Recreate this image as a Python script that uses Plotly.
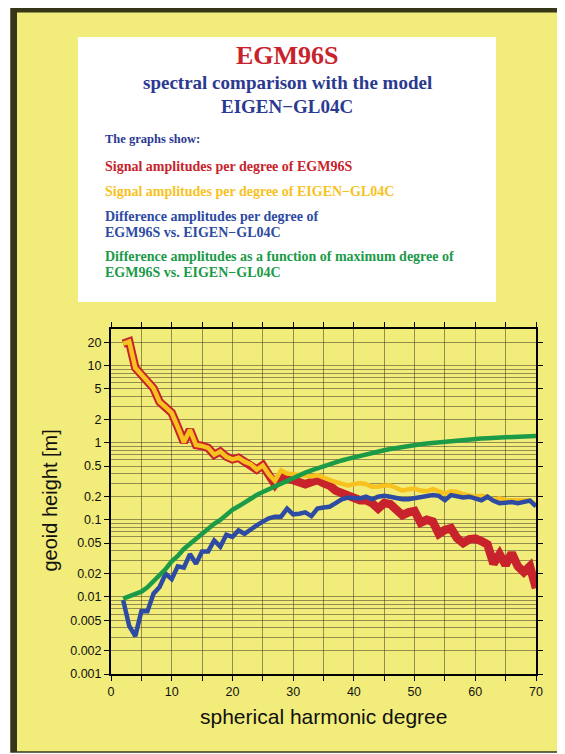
import plotly.graph_objects as go

# ---------------- data ----------------
degree = list(range(2, 71))

egm96s_signal = [19.3, 20.6, 9.4, 7.5, 6.3, 5.1, 3.4, 2.9, 2.45, 1.6,
                 1.02, 1.47, 0.94, 0.91, 0.86, 0.70, 0.77, 0.66, 0.61, 0.64,
                 0.57, 0.53, 0.45, 0.51, 0.39, 0.29, 0.37, 0.35, 0.33, 0.31,
                 0.29, 0.31, 0.33, 0.30, 0.28, 0.24, 0.22, 0.20, 0.185, 0.18,
                 0.18, 0.165, 0.14, 0.165, 0.16, 0.135, 0.115, 0.125, 0.13, 0.092,
                 0.10, 0.095, 0.066, 0.074, 0.078, 0.058, 0.05, 0.056, 0.057, 0.053,
                 0.048, 0.027, 0.036, 0.026, 0.037, 0.025, 0.021, 0.025, 0.013]

eigen_signal = [19.3, 20.6, 9.4, 7.5, 6.3, 5.1, 3.4, 2.9, 2.45, 1.6,
                1.02, 1.47, 0.94, 0.91, 0.86, 0.70, 0.77, 0.66, 0.61, 0.64,
                0.57, 0.53, 0.45, 0.51, 0.39, 0.32, 0.44, 0.40, 0.39, 0.38,
                0.37, 0.365, 0.38, 0.35, 0.33, 0.31, 0.29, 0.28, 0.29, 0.30,
                0.29, 0.27, 0.27, 0.28, 0.28, 0.26, 0.24, 0.25, 0.255, 0.24,
                0.235, 0.25, 0.235, 0.22, 0.235, 0.23, 0.215, 0.21, 0.20, 0.205,
                0.20, 0.18, 0.19, 0.18, 0.18, 0.175, 0.18, 0.18, 0.155]

diff_per_degree = [0.0091, 0.0042, 0.0031, 0.0065, 0.0065, 0.011, 0.0135, 0.020, 0.017, 0.025,
                   0.024, 0.036, 0.027, 0.039, 0.039, 0.054, 0.045, 0.064, 0.060, 0.073,
                   0.066, 0.076, 0.085, 0.095, 0.105, 0.11, 0.11, 0.14, 0.118, 0.12,
                   0.125, 0.112, 0.14, 0.145, 0.148, 0.165, 0.185, 0.195, 0.19, 0.19,
                   0.20, 0.185, 0.20, 0.205, 0.20, 0.19, 0.185, 0.185, 0.19, 0.195,
                   0.20, 0.21, 0.205, 0.18, 0.21, 0.205, 0.195, 0.20, 0.19, 0.18,
                   0.20, 0.177, 0.165, 0.17, 0.17, 0.165, 0.17, 0.178, 0.15]

diff_cumulative = [0.0095, 0.0102, 0.0106, 0.0117, 0.0133, 0.016, 0.019, 0.023, 0.029, 0.034,
                   0.042, 0.049, 0.058, 0.067, 0.077, 0.089, 0.10, 0.118, 0.135, 0.15,
                   0.17, 0.19, 0.21, 0.23, 0.25, 0.275, 0.30, 0.33, 0.355, 0.38,
                   0.41, 0.44, 0.47, 0.50, 0.53, 0.56, 0.59, 0.62, 0.65, 0.68,
                   0.71, 0.74, 0.77, 0.80, 0.83, 0.86, 0.89, 0.92, 0.94, 0.96,
                   0.98, 1.0, 1.02, 1.04, 1.06, 1.08, 1.10, 1.11, 1.13, 1.14,
                   1.15, 1.16, 1.17, 1.18, 1.19, 1.20, 1.21, 1.22, 1.23]

y_major_ticks = [0.001, 0.002, 0.005, 0.01, 0.02, 0.05, 0.1, 0.2, 0.5, 1, 2, 5, 10, 20]
y_major_labels = ["0.001", "0.002", "0.005", "0.01", "0.02", "0.05", "0.1", "0.2", "0.5",
                  "1", "2", "5", "10", "20"]
y_minor_ticks = [m * 10.0 ** e for e in range(-3, 2) for m in (3, 4, 6, 7, 8, 9)] + [30]

# ---------------- colours ----------------
RED = "#C8232C"
ORANGE = "#F8C21E"
BLUE = "#2D4BA3"
GREEN = "#1B9A48"
TITLE_BLUE = "#2B3990"
FRAME_YELLOW = "#F2EC7A"
PLOT_BG = "#FBF7CE"
DARK = "#36361A"
GRID = "rgba(70,66,40,0.55)"

# ---------------- layout geometry (page pixels) ----------------
PAGE_W, PAGE_H = 565, 754
OFF = 8                       # default body margin of the html page
L, R, T, B = 111, 536, 329, 674


def px(x):
    return (x - L) / (R - L)


def py(y):
    return (B - y) / (B - T)


fig = go.Figure()

fig.add_trace(go.Scatter(x=degree, y=egm96s_signal, mode="lines",
                         line=dict(color=RED, width=8.5), hoverinfo="skip"))
fig.add_trace(go.Scatter(x=degree, y=eigen_signal, mode="lines",
                         line=dict(color=ORANGE, width=4.5), hoverinfo="skip"))
fig.add_trace(go.Scatter(x=degree, y=diff_per_degree, mode="lines",
                         line=dict(color=BLUE, width=4.5), hoverinfo="skip"))
fig.add_trace(go.Scatter(x=degree, y=diff_cumulative, mode="lines",
                         line=dict(color=GREEN, width=4.5), hoverinfo="skip"))

shapes = [
    # yellow frame
    dict(type="rect", xref="paper", yref="paper", layer="below",
         x0=px(11), x1=px(562), y0=py(752), y1=py(6),
         fillcolor=FRAME_YELLOW, line=dict(color=DARK, width=1.5)),
    # thick dark left / top edges
    dict(type="rect", xref="paper", yref="paper", layer="below",
         x0=px(11), x1=px(17), y0=py(752), y1=py(6),
         fillcolor=DARK, line=dict(width=0)),
    dict(type="rect", xref="paper", yref="paper", layer="below",
         x0=px(11), x1=px(562), y0=py(12.5), y1=py(6),
         fillcolor=DARK, line=dict(width=0)),
    # white text box
    dict(type="rect", xref="paper", yref="paper", layer="below",
         x0=px(78), x1=px(496), y0=py(302), y1=py(37),
         fillcolor="white", line=dict(width=0)),
]

SERIF = "Liberation Serif"
SANS = "Liberation Sans"


def txt(text, x, y, size, color, anchor="center", family=SERIF, bold=True, angle=0):
    return dict(text=text, xref="paper", yref="paper", x=px(x), y=py(y),
                xanchor=anchor, yanchor="middle", showarrow=False, textangle=angle,
                font=dict(family=family, size=size, color=color,
                          weight="bold" if bold else "normal"))


annotations = [
    txt("EGM96S", 287, 55, 26, RED),
    txt("spectral comparison with the model", 287, 83, 19, TITLE_BLUE),
    txt("EIGEN\u2212GL04C", 287, 107, 19, TITLE_BLUE),
    txt("The graphs show:", 103, 139, 12.5, TITLE_BLUE, "left"),
    txt("Signal amplitudes per degree of EGM96S", 103, 166, 14, RED, "left"),
    txt("Signal amplitudes per degree of EIGEN\u2212GL04C", 103, 192, 14, ORANGE, "left"),
    txt("Difference amplitudes per degree of", 103, 216, 14, BLUE, "left"),
    txt("EGM96S vs. EIGEN\u2212GL04C", 103, 232, 14, BLUE, "left"),
    txt("Difference amplitudes as a function of maximum degree of", 103, 256, 14, GREEN, "left"),
    txt("EGM96S vs. EIGEN\u2212GL04C", 103, 272, 14, GREEN, "left"),
    # axis titles
    txt("spherical harmonic degree", 323.5, 716.5, 21, "#111111", family=SANS, bold=False),
    txt("geoid height [m]", 49.5, 501, 20, "#111111", family=SANS, bold=False, angle=-90),
]

fig.update_layout(
    width=PAGE_W - OFF, height=PAGE_H - OFF, autosize=False,
    margin=dict(l=L - OFF, r=PAGE_W - R, t=T - OFF, b=PAGE_H - B, pad=0),
    paper_bgcolor="white",
    plot_bgcolor=PLOT_BG,
    showlegend=False,
    shapes=shapes,
    annotations=annotations,
    font=dict(family=SANS, color="#111111"),
)

fig.update_xaxes(
    range=[0, 70], dtick=10, tick0=0,
    showline=True, linecolor="black", linewidth=2, mirror="ticks",
    ticks="outside", ticklen=5, tickwidth=1.3, tickcolor="black",
    showgrid=True, gridcolor=GRID, gridwidth=1,
    zeroline=False,
    tickfont=dict(family=SANS, size=12.5, color="#111111"),
    minor=dict(dtick=5, tick0=0, showgrid=True, gridcolor=GRID, gridwidth=1,
               ticks="outside", ticklen=5, tickwidth=1.3, tickcolor="black"),
)

fig.update_yaxes(
    type="log", range=[-3, 1.477],
    tickmode="array", tickvals=y_major_ticks, ticktext=y_major_labels,
    showline=True, linecolor="black", linewidth=2, mirror="ticks",
    ticks="outside", ticklen=5, tickwidth=1.3, tickcolor="black",
    showgrid=True, gridcolor=GRID, gridwidth=1,
    zeroline=False,
    tickfont=dict(family=SANS, size=12.5, color="#111111"),
    minor=dict(tickmode="array", tickvals=y_minor_ticks, showgrid=True,
               gridcolor=GRID, gridwidth=1, ticks=""),
)

fig.write_html("out.html")
